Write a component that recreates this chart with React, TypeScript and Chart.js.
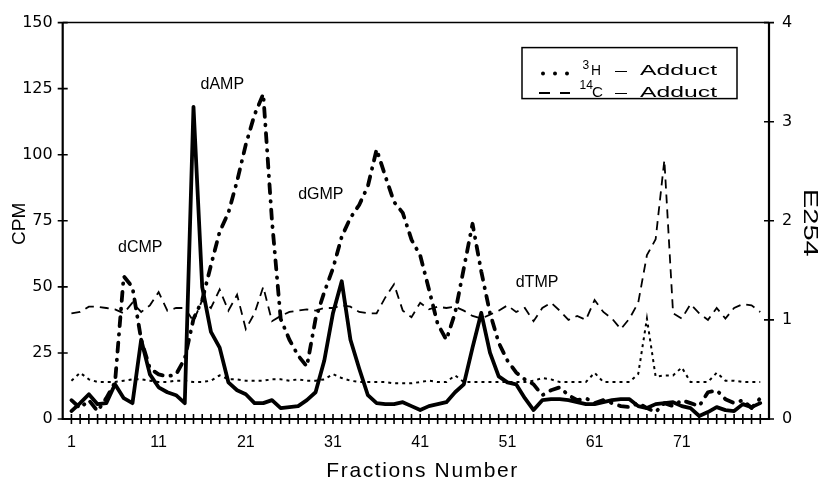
import React, { useEffect, useRef } from 'react';
import { Chart, registerables } from 'chart.js';

Chart.register(...registerables);

// ---- data ----
const fractions = Array.from({ length: 80 }, (_, i) => i + 1);
const xTickLabels = [1, 11, 21, 31, 41, 51, 61, 71];
const cpmTicks = [0, 25, 50, 75, 100, 125, 150];
const e254Ticks = [0, 1, 2, 3, 4];

// 3H-Adduct (CPM, thin dotted)
const h3Adduct = [
  14.5, 17.5, 15, 14, 14, 14, 14.5, 15, 15, 14.5,
  14, 14, 14.5, 14.5, 14, 14, 14.5, 16.5, 15, 15,
  14.5, 14.5, 14.5, 15, 15, 14.5, 15, 14.5, 14.5, 15,
  17, 15.5, 14.5, 14, 14, 14, 14, 13.5, 13.5, 13.5,
  14, 14.5, 14, 14, 16.5, 14, 14, 14, 14, 14,
  14, 14, 14, 14.5, 15.5, 15, 14, 14, 14, 14,
  17.5, 14, 14, 14, 14, 17, 38, 16, 16.5, 16.5,
  19.5, 14, 14, 14, 17.5, 14.5, 14.5, 14, 14, 14,
];

// 14C-Adduct (CPM, thin dashed)
const c14Adduct = [
  40, 40.5, 42.5, 42.5, 42, 41.5, 40, 44, 40.5, 43,
  48, 41, 42, 42, 37, 45, 42, 49, 41, 47,
  34, 40, 50, 37, 39, 40.5, 41, 41.5, 41, 42,
  42, 43, 42.5, 40.5, 40, 40, 46, 51, 41, 38.5,
  44, 41.5, 42.5, 42, 42.5, 41, 39, 38, 39.5, 41,
  43, 40.5, 42, 37, 42, 44, 41, 37.5, 39, 37.5,
  45, 40.5, 38, 34, 38, 44, 62, 68, 98, 40,
  38, 43.5, 40, 37.5, 42, 38, 42, 43.5, 43, 40.5,
];

// E254 (thick solid)
const e254Solid = [
  0.08, 0.16, 0.25, 0.15, 0.16, 0.35, 0.21, 0.16, 0.8, 0.45,
  0.32, 0.27, 0.24, 0.16, 3.15, 1.33, 0.88, 0.72, 0.37, 0.29,
  0.25, 0.16, 0.16, 0.19, 0.11, 0.12, 0.13, 0.19, 0.27, 0.59,
  1.07, 1.39, 0.8, 0.51, 0.24, 0.16, 0.15, 0.15, 0.17, 0.13,
  0.09, 0.13, 0.15, 0.17, 0.27, 0.35, 0.72, 1.07, 0.67, 0.43,
  0.37, 0.35, 0.21, 0.09, 0.19, 0.2, 0.2, 0.19, 0.17, 0.15,
  0.15, 0.17, 0.19, 0.2, 0.2, 0.13, 0.11, 0.15, 0.16, 0.17,
  0.13, 0.11, 0.03, 0.07, 0.12, 0.09, 0.08, 0.15, 0.12, 0.16,
];

// E254 (thick dash-dot)
const e254DashDot = [
  0.19, 0.11, 0.19, 0.08, 0.21, 0.37, 1.44, 1.33, 0.8, 0.51,
  0.45, 0.43, 0.45, 0.61, 1.01, 1.2, 1.55, 1.89, 2.08, 2.4,
  2.77, 3.07, 3.28, 2.0, 1.01, 0.8, 0.64, 0.53, 1.01, 1.28,
  1.52, 1.84, 2.03, 2.16, 2.35, 2.72, 2.45, 2.19, 2.08, 1.81,
  1.65, 1.31, 0.96, 0.8, 1.07, 1.52, 1.97, 1.49, 1.07, 0.77,
  0.59, 0.47, 0.4, 0.35, 0.24, 0.29, 0.32, 0.24, 0.19, 0.21,
  0.16, 0.19, 0.16, 0.13, 0.12, 0.16, 0.11, 0.07, 0.16, 0.13,
  0.19, 0.16, 0.13, 0.27, 0.29, 0.2, 0.16, 0.19, 0.11, 0.21,
];

// peak annotations (fraction, CPM)
const peakLabels = ['dCMP', 'dAMP', 'dGMP', 'dTMP'];
const peakFractions = [8.9, 18.3, 29.6, 54.4];
const peakCpm = [65, 126.5, 85, 51.5];

const SANS = '"Liberation Sans", Arial, Helvetica, sans-serif';
const WIDE = '"DejaVu Sans", Verdana, sans-serif';

// letter-spaced text fitted to a width
function spacedText(ctx: CanvasRenderingContext2D, text: string, x: number, y: number, width: number, align: 'left' | 'center') {
  (ctx as any).letterSpacing = '0px';
  const w = ctx.measureText(text).width;
  const n = Array.from(text).length;
  const sp = n > 1 ? (width - w) / (n - 1) : 0;
  (ctx as any).letterSpacing = sp + 'px';
  ctx.textAlign = 'left';
  const sx = align === 'center' ? x - width / 2 : x;
  ctx.fillText(text, sx, y);
  (ctx as any).letterSpacing = '0px';
}

// horizontally stretched text fitted to a width
function stretchedText(ctx: CanvasRenderingContext2D, text: string, x: number, y: number, width: number, align: 'left' | 'center') {
  (ctx as any).letterSpacing = '0px';
  const w = ctx.measureText(text).width;
  const k = width / w;
  ctx.save();
  ctx.translate(align === 'center' ? x - width / 2 : x, y);
  ctx.scale(k, 1);
  ctx.textAlign = 'left';
  ctx.fillText(text, 0, 0);
  ctx.restore();
}

const decor = {
  id: 'decor',
  afterDraw(chart: any) {
    const { ctx, chartArea: a, scales } = chart;
    const xs = scales.x;
    const ys = scales.y;
    const y1 = scales.y1;
    ctx.save();
    ctx.strokeStyle = '#000';
    ctx.fillStyle = '#000';
    ctx.setLineDash([]);
    // frame
    ctx.lineWidth = 2.2;
    ctx.beginPath();
    ctx.moveTo(a.left, a.top);
    ctx.lineTo(a.left, a.bottom);
    ctx.lineTo(a.right, a.bottom);
    ctx.lineTo(a.right, a.top);
    ctx.stroke();
    ctx.lineWidth = 1.5;
    ctx.beginPath();
    ctx.moveTo(a.left, a.top);
    ctx.lineTo(a.right, a.top);
    ctx.stroke();
    // crossing tick marks
    ctx.lineWidth = 1.6;
    ctx.beginPath();
    fractions.forEach((f) => {
      const px = xs.getPixelForValue(f);
      ctx.moveTo(px, a.bottom - 5);
      ctx.lineTo(px, a.bottom + 5);
    });
    cpmTicks.forEach((v) => {
      const py = ys.getPixelForValue(v);
      ctx.moveTo(a.left - 5, py);
      ctx.lineTo(a.left + 5, py);
    });
    e254Ticks.forEach((v) => {
      const py = y1.getPixelForValue(v);
      ctx.moveTo(a.right - 5, py);
      ctx.lineTo(a.right + 5, py);
    });
    ctx.stroke();

    // axis titles
    ctx.textBaseline = 'middle';
    ctx.font = '19px ' + SANS;
    ctx.save();
    ctx.translate(19.5, (a.top + a.bottom) / 2 + 3);
    ctx.rotate(-Math.PI / 2);
    ctx.textAlign = 'center';
    ctx.fillText('CPM', 0, 0);
    ctx.restore();

    ctx.save();
    ctx.translate(810, (a.top + a.bottom) / 2 + 2);
    ctx.rotate(Math.PI / 2);
    ctx.font = '21px ' + SANS;
    stretchedText(ctx, 'E254', 0, 0, 68, 'center');
    ctx.restore();

    ctx.textBaseline = 'alphabetic';
    ctx.font = '21px ' + SANS;
    spacedText(ctx, 'Fractions Number', (a.left + a.right) / 2 + 6, 477, 191, 'center');

    // peak labels
    ctx.font = '16px ' + SANS;
    ctx.textAlign = 'center';
    ctx.textBaseline = 'middle';
    peakLabels.forEach((t, i) => {
      ctx.fillText(t, xs.getPixelForValue(peakFractions[i]), ys.getPixelForValue(peakCpm[i]));
    });

    // legend
    const bx = a.right - 247;
    const by = a.top + 25;
    ctx.lineWidth = 1.5;
    ctx.strokeRect(bx, by, 215, 51);
    ctx.textBaseline = 'alphabetic';
    // row 1: dotted sample
    [21, 33, 45].forEach((dx) => {
      ctx.beginPath();
      ctx.arc(bx + dx, by + 26, 2, 0, Math.PI * 2);
      ctx.fill();
    });
    ctx.font = '12px ' + SANS;
    ctx.textAlign = 'left';
    ctx.fillText('3', bx + 60.5, by + 21);
    ctx.font = '15px ' + SANS;
    stretchedText(ctx, 'H', bx + 69, by + 27.5, 10, 'left');
    stretchedText(ctx, '\u2013', bx + 93, by + 27.5, 12, 'left');
    stretchedText(ctx, 'Adduct', bx + 118, by + 27.5, 77, 'left');
    // row 2: dashed sample
    ctx.lineWidth = 2;
    ctx.beginPath();
    ctx.moveTo(bx + 17, by + 45.5);
    ctx.lineTo(bx + 28, by + 45.5);
    ctx.moveTo(bx + 38, by + 45.5);
    ctx.lineTo(bx + 48, by + 45.5);
    ctx.stroke();
    ctx.font = '12px ' + SANS;
    ctx.fillText('14', bx + 57.5, by + 41);
    ctx.font = '15px ' + SANS;
    stretchedText(ctx, 'C', bx + 70, by + 49, 11, 'left');
    stretchedText(ctx, '\u2013', bx + 93, by + 49, 12, 'left');
    stretchedText(ctx, 'Adduct', bx + 118, by + 49, 77, 'left');

    ctx.restore();
  },
};

export default function App() {
  const ref = useRef<HTMLCanvasElement | null>(null);
  useEffect(() => {
    if (!ref.current) return;
    const toXY = (arr: number[]) => arr.map((v, i) => ({ x: fractions[i], y: v }));
    const chart = new Chart(ref.current, {
      type: 'line',
      data: {
        datasets: [
          {
            label: 'E254 (solid)',
            data: toXY(e254Solid),
            yAxisID: 'y1',
            borderColor: '#000',
            borderWidth: 3.8,
            pointRadius: 0,
            tension: 0,
            borderJoinStyle: 'round',
            borderCapStyle: 'round',
          },
          {
            label: 'E254 (dash-dot)',
            data: toXY(e254DashDot),
            yAxisID: 'y1',
            borderColor: '#000',
            borderWidth: 3.8,
            pointRadius: 0,
            tension: 0,
            borderDash: [9, 8, 0.5, 8],
            borderCapStyle: 'round',
            borderJoinStyle: 'round',
          },
          {
            label: '14C - Adduct',
            data: toXY(c14Adduct),
            yAxisID: 'y',
            borderColor: '#000',
            borderWidth: 1.8,
            pointRadius: 0,
            tension: 0,
            borderDash: [9, 6],
          },
          {
            label: '3H - Adduct',
            data: toXY(h3Adduct),
            yAxisID: 'y',
            borderColor: '#000',
            borderWidth: 2,
            pointRadius: 0,
            tension: 0,
            borderDash: [3, 4],
          },
        ],
      },
      options: {
        animation: false,
        responsive: false,
        devicePixelRatio: 1,
        layout: { padding: { top: 21, left: 0, right: 0, bottom: 0 } },
        plugins: { legend: { display: false }, tooltip: { enabled: false } },
        scales: {
          x: {
            type: 'linear',
            position: 'bottom',
            min: 0,
            max: 81,
            afterFit: (s: any) => { s.height = 60; },
            grid: { display: false, drawTicks: false },
            border: { display: false },
            ticks: {
              stepSize: 1,
              autoSkip: false,
              maxRotation: 0,
              minRotation: 0,
              padding: 14,
              color: '#000',
              font: { family: SANS, size: 16 },
              callback: (v: any) => (xTickLabels.includes(Number(v)) ? String(v) : ''),
            },
          },
          y: {
            position: 'left',
            min: 0,
            max: 150,
            afterFit: (s: any) => { s.width = 62.7; },
            grid: { display: false, drawTicks: false },
            border: { display: false },
            ticks: {
              stepSize: 25,
              padding: 10,
              color: '#000',
              font: { family: WIDE, size: 16 },
            },
          },
          y1: {
            position: 'right',
            min: 0,
            max: 4,
            afterFit: (s: any) => { s.width = 49; },
            grid: { display: false, drawTicks: false },
            border: { display: false },
            ticks: {
              stepSize: 1,
              padding: 13,
              color: '#000',
              font: { family: WIDE, size: 16 },
            },
          },
        },
      },
      plugins: [decor],
    });
    return () => chart.destroy();
  }, []);
  return (
    <div style={{ position: 'fixed', left: 0, top: 0, width: 818, height: 479, background: '#fff' }}>
      <canvas ref={ref} width={818} height={479} style={{ display: 'block' }} />
    </div>
  );
}
